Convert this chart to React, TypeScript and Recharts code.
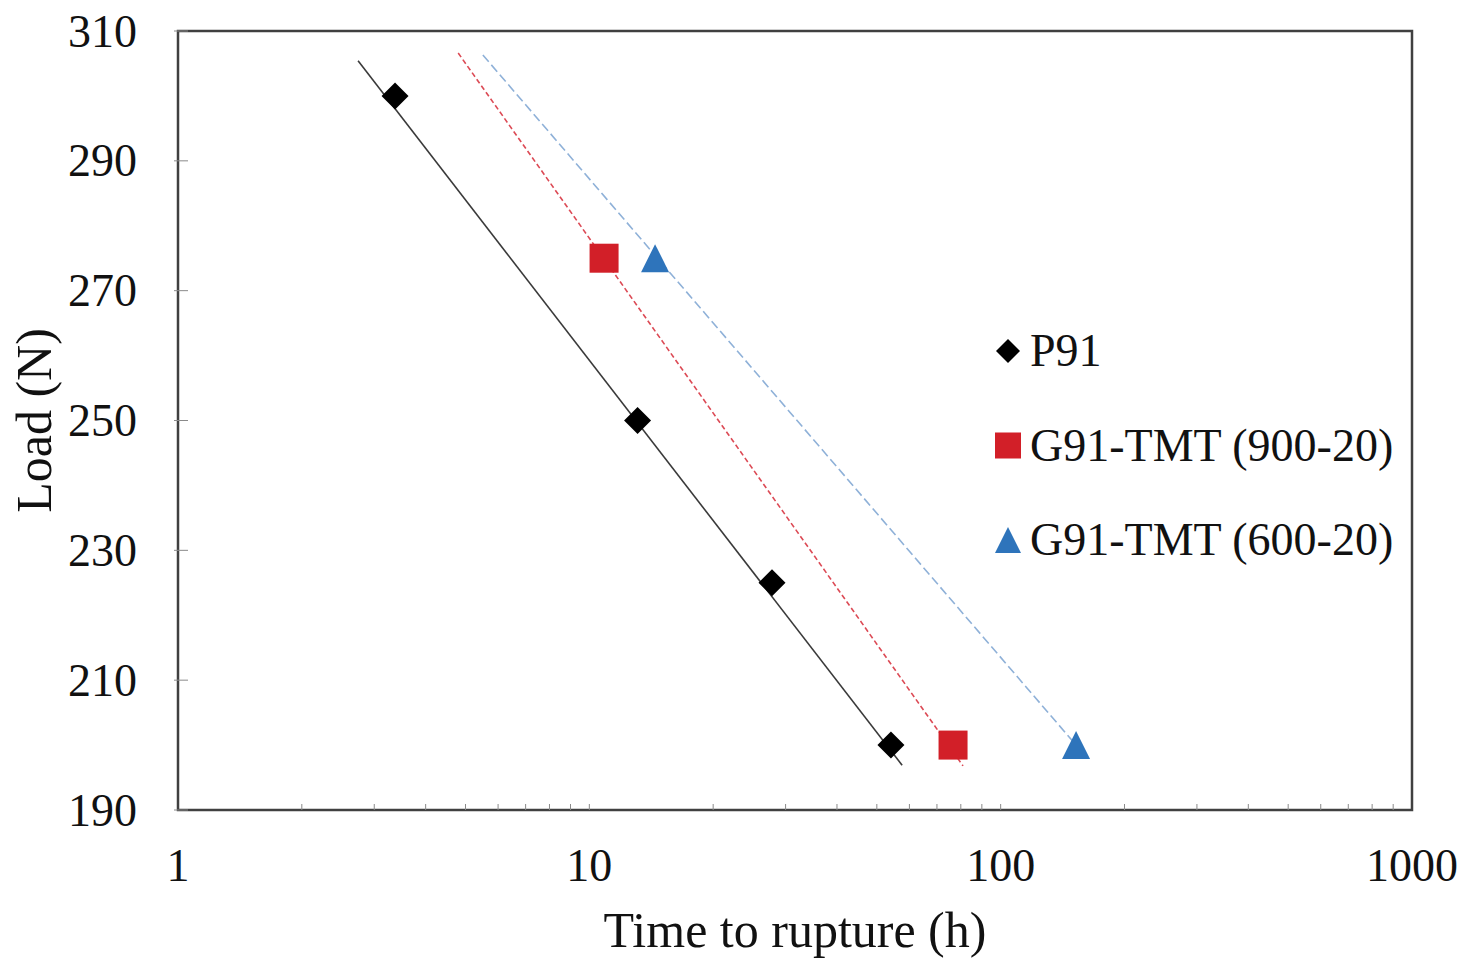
import React from 'react';
import { ScatterChart, Scatter, XAxis, YAxis, Legend, ReferenceArea } from 'recharts';

// Measured creep rupture points
const p91Time = [3.37, 13.1, 27.8, 54.1];
const p91Load = [300, 250, 225, 200];
const g900Time = [10.86, 76.6];
const g900Load = [275, 200];
const g600Time = [14.45, 152.5];
const g600Load = [275, 200];

// Logarithmic trend line end points for each material
const p91TrendTime = [2.74, 57.6];
const p91TrendLoad = [305.4, 196.9];
const g900TrendTime = [4.8, 81.0];
const g900TrendLoad = [306.6, 196.8];
const g600TrendTime = [5.51, 152.5];
const g600TrendLoad = [306.3, 200];

const seriesNames = ['P91', 'G91-TMT (900-20)', 'G91-TMT (600-20)'];

const xTicks = [
  1, 2, 3, 4, 5, 6, 7, 8, 9,
  10, 20, 30, 40, 50, 60, 70, 80, 90,
  100, 200, 300, 400, 500, 600, 700, 800, 900,
  1000,
];
const xTickLabels = [1, 10, 100, 1000];
const yTicks = [190, 210, 230, 250, 270, 290, 310];

const FONT = '"Liberation Serif", "Times New Roman", serif';
const BLACK = '#000000';
const RED = '#d21f28';
const BLUE = '#2e74bb';

const zip = (xs: number[], ys: number[]) => xs.map((t, i) => ({ time: t, load: ys[i] }));

const DiamondShape = (props: any) => {
  const { cx, cy } = props;
  const r = 13.5;
  return (
    <polygon
      points={`${cx},${cy - r} ${cx + r},${cy} ${cx},${cy + r} ${cx - r},${cy}`}
      fill={BLACK}
    />
  );
};

const SquareShape = (props: any) => {
  const { cx, cy } = props;
  const s = 29;
  return <rect x={cx - s / 2} y={cy - s / 2} width={s} height={s} fill={RED} />;
};

const TriangleShape = (props: any) => {
  const { cx, cy } = props;
  const w = 28;
  const h = 28;
  return (
    <polygon
      points={`${cx},${cy - h / 2} ${cx + w / 2},${cy + h / 2} ${cx - w / 2},${cy + h / 2}`}
      fill={BLUE}
    />
  );
};

const NoShape = () => <g />;

const XTick = (props: any) => {
  const { x, y, payload } = props;
  const v = payload.value;
  const showLabel = xTickLabels.includes(v);
  return (
    <g>
      {v !== 1 && v !== 1000 && (
        <line x1={x} x2={x} y1={y} y2={y - 6} stroke="#8a8a8a" strokeWidth={1} />
      )}
      {showLabel && (
        <text
          x={x}
          y={y + 55}
          textAnchor="middle"
          dominantBaseline="central"
          fontFamily={FONT}
          fontSize={46}
          fill="#111"
        >
          {v}
        </text>
      )}
    </g>
  );
};

const YTick = (props: any) => {
  const { x, y, payload } = props;
  return (
    <g>
      <line x1={x - 4} x2={x + 10} y1={y} y2={y} stroke="#8a8a8a" strokeWidth={1} />
      <text
        x={x - 41}
        y={y}
        textAnchor="end"
        dominantBaseline="central"
        fontFamily={FONT}
        fontSize={46}
        fill="#111"
      >
        {payload.value}
      </text>
    </g>
  );
};

const legendIcon = (name: string, cx: number, cy: number) => {
  if (name === seriesNames[0]) {
    const r = 12;
    return (
      <polygon
        points={`${cx},${cy - r} ${cx + r},${cy} ${cx},${cy + r} ${cx - r},${cy}`}
        fill={BLACK}
      />
    );
  }
  if (name === seriesNames[1]) {
    return <rect x={cx - 13} y={cy - 13} width={26} height={26} fill={RED} />;
  }
  return (
    <polygon
      points={`${cx},${cy - 13} ${cx + 13},${cy + 13} ${cx - 13},${cy + 13}`}
      fill={BLUE}
    />
  );
};

const LegendContent = (props: any) => {
  const entries = (props.payload || [])
    .filter((e: any) => e.type !== 'none' && seriesNames.includes(e.value))
    .sort((a: any, b: any) => seriesNames.indexOf(a.value) - seriesNames.indexOf(b.value));
  const rowGap = 94.5;
  return (
    <svg width={430} height={300} style={{ display: 'block' }}>
      {entries.map((e: any, i: number) => {
        const cy = 47 + i * rowGap;
        return (
          <g key={e.value}>
            {legendIcon(e.value, 18, cy)}
            <text x={40} y={cy + 15} fontFamily={FONT} fontSize={46} fill="#111">
              {e.value}
            </text>
          </g>
        );
      })}
    </svg>
  );
};

export default function App() {
  return (
    <div style={{ position: 'absolute', left: 0, top: 0, background: '#fff' }}>
      <ScatterChart
        width={1481}
        height={962}
        margin={{ top: 31, right: 69, bottom: 0, left: 0 }}
      >
        <XAxis
          type="number"
          dataKey="time"
          scale="log"
          domain={[1, 1000]}
          ticks={xTicks}
          interval={0}
          allowDataOverflow
          height={152}
          axisLine={false}
          tickLine={false}
          tickSize={0}
          tickMargin={0}
          tick={<XTick />}
          label={{
            value: 'Time to rupture (h)',
            content: () => (
              <text
                x={(178 + 1412) / 2}
                y={947}
                textAnchor="middle"
                fontFamily={FONT}
                fontSize={50}
                fill="#111"
              >
                Time to rupture (h)
              </text>
            ),
          }}
        />
        <YAxis
          type="number"
          dataKey="load"
          domain={[190, 310]}
          ticks={yTicks}
          interval={0}
          allowDataOverflow
          width={178}
          axisLine={false}
          tickLine={false}
          tickSize={0}
          tickMargin={0}
          tick={<YTick />}
          label={{
            value: 'Load (N)',
            content: () => (
              <text
                x={51}
                y={420.5}
                transform="rotate(-90 51 420.5)"
                textAnchor="middle"
                fontFamily={FONT}
                fontSize={50}
                fill="#111"
              >
                Load (N)
              </text>
            ),
          }}
        />
        <ReferenceArea
          x1={1}
          x2={1000}
          y1={190}
          y2={310}
          fill="none"
          fillOpacity={0}
          stroke="#404040"
          strokeWidth={2.5}
        />
        <Scatter
          name="p91-trend"
          data={zip(p91TrendTime, p91TrendLoad)}
          line={{ stroke: '#3a3a3a', strokeWidth: 1.6 }}
          shape={<NoShape />}
          legendType="none"
          isAnimationActive={false}
        />
        <Scatter
          name="g900-trend"
          data={zip(g900TrendTime, g900TrendLoad)}
          line={{ stroke: '#dc4a55', strokeWidth: 1.6, strokeDasharray: '5 3' }}
          shape={<NoShape />}
          legendType="none"
          isAnimationActive={false}
        />
        <Scatter
          name="g600-trend"
          data={zip(g600TrendTime, g600TrendLoad)}
          line={{ stroke: '#8fb1d8', strokeWidth: 1.6, strokeDasharray: '9 4' }}
          shape={<NoShape />}
          legendType="none"
          isAnimationActive={false}
        />
        <Scatter
          name={seriesNames[0]}
          data={zip(p91Time, p91Load)}
          fill={BLACK}
          shape={<DiamondShape />}
          legendType="diamond"
          isAnimationActive={false}
        />
        <Scatter
          name={seriesNames[1]}
          data={zip(g900Time, g900Load)}
          fill={RED}
          shape={<SquareShape />}
          legendType="square"
          isAnimationActive={false}
        />
        <Scatter
          name={seriesNames[2]}
          data={zip(g600Time, g600Load)}
          fill={BLUE}
          shape={<TriangleShape />}
          legendType="triangle"
          isAnimationActive={false}
        />
        <Legend
          layout="horizontal"
          verticalAlign="middle"
          align="center"
          content={<LegendContent />}
          wrapperStyle={{ position: 'absolute', left: 990, top: 304, width: 430, height: 300 }}
        />
      </ScatterChart>
    </div>
  );
}
